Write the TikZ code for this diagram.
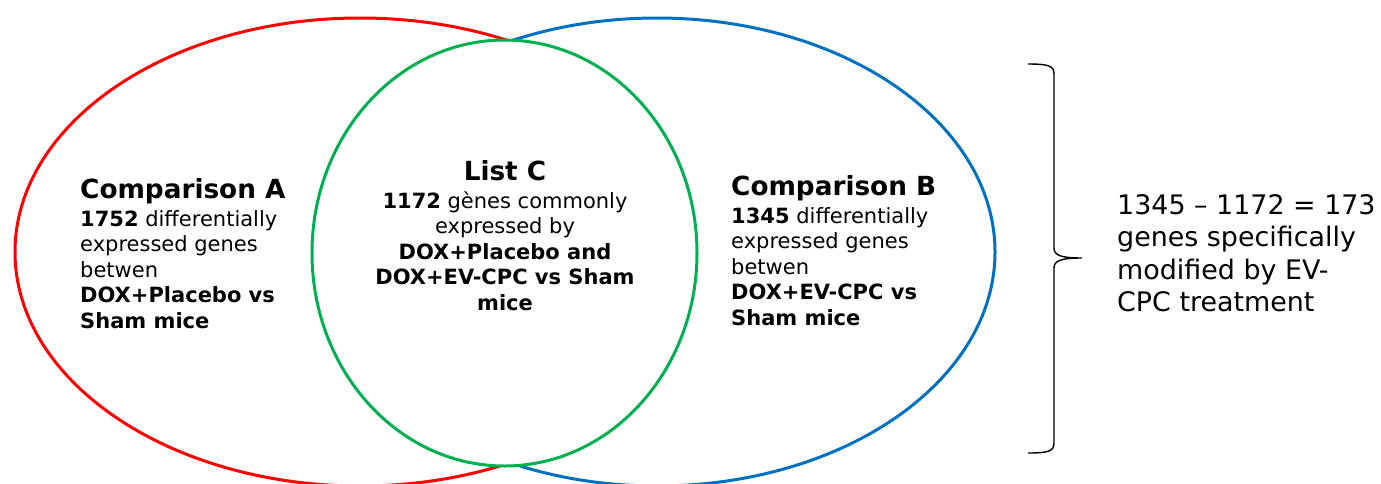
\documentclass[tikz,border=0pt]{standalone}
\usepackage{fontspec}
\setmainfont{DejaVu Sans}
\definecolor{vred}{RGB}{255,0,0}
\definecolor{vblue}{RGB}{0,112,192}
\definecolor{vgreen}{RGB}{0,176,80}
\begin{document}
\begin{tikzpicture}[x=1pt,y=-1pt,
  setline/.style={line width=3pt, fill=white},
  titletext/.style={inner sep=0pt, font=\fontsize{26.3}{30}\selectfont\bfseries},
  bodytext/.style={inner sep=0pt, font=\fontsize{21}{25.6}\selectfont},
  notetext/.style={inner sep=0pt, align=left, font=\fontsize{26.9}{32.5}\selectfont}]
\useasboundingbox (0,0) rectangle (1381,483);
% sets
\draw[setline, draw=vred] (360,252) ellipse [x radius=345, y radius=234];
\draw[setline, draw=vblue] (657,252) ellipse [x radius=338, y radius=234];
\draw[setline, draw=vgreen] (504.5,253) ellipse [x radius=192.5, y radius=213];
% texts (base anchor = baseline of the last line)
\node[titletext, anchor=base west] (tA) at (80,198) {Comparison A};
\node[bodytext, anchor=base west, align=left] (bA) at (80,328.4)
  {\textbf{1752} differentially\\expressed genes\\betwen\\\textbf{DOX+Placebo vs}\\\textbf{Sham mice}};
\node[titletext, anchor=base] (tC) at (505,180) {List C};
\node[bodytext, anchor=base, align=center] (bC) at (505,310.4)
  {\textbf{1172} gènes commonly\\expressed by\\\textbf{DOX+Placebo and}\\\textbf{DOX+EV-CPC vs Sham}\\\textbf{mice}};
\node[titletext, anchor=base west] (tB) at (731,195) {Comparison B};
\node[bodytext, anchor=base west, align=left] (bB) at (731,325.4)
  {\textbf{1345} differentially\\expressed genes\\betwen\\\textbf{DOX+EV-CPC vs}\\\textbf{Sham mice}};
% brace
\draw[line width=1.4pt, black] (1028,64) .. controls (1049,64) and (1054,66) .. (1054,74)
  -- (1054,248) .. controls (1054,255) and (1060,258) .. (1082,258)
  .. controls (1060,258) and (1054,261) .. (1054,268)
  -- (1054,443) .. controls (1054,451) and (1049,453) .. (1028,453);
\node[notetext, anchor=base west] (note) at (1117,311.5)
  {1345 – 1172 = 173\\genes specifically\\modified by EV-\\CPC treatment};
\end{tikzpicture}
\end{document}
